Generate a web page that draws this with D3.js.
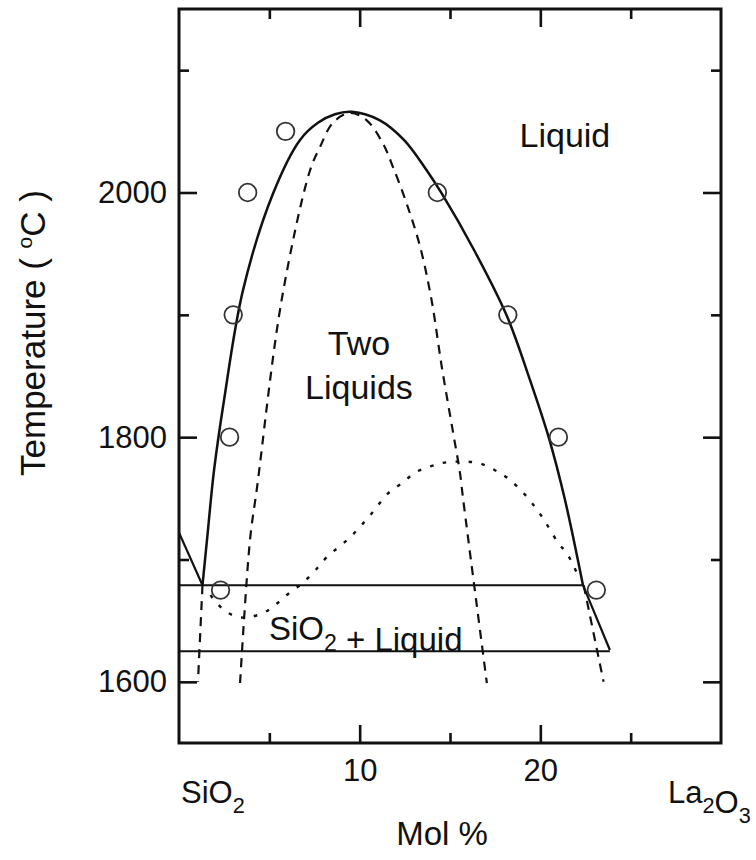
<!DOCTYPE html>
<html><head><meta charset="utf-8">
<script src="https://cdn.jsdelivr.net/npm/d3@7"></script>
<style>
body{margin:0;background:#fff}
text{font-family:"Liberation Sans",Arial,Helvetica,sans-serif;fill:#111}
</style>
</head><body><svg id="c" width="756" height="860"></svg>
<script>
// ---------- data ----------
const xDomain = [0, 30];
const yDomain = [1550, 2150];
const xMajorTicks = [10, 20];
const xMinorTicks = [5, 15, 25];
const xTickLabels = ["10", "20"];
const yMajorTicks = [1600, 1800, 2000];
const yMinorTicks = [1700, 1900, 2100];
const yTickLabels = ["1600", "1800", "2000"];

// measured liquidus points (open circles): [mol% La2O3, T °C]
const measuredX = [2.3, 2.8, 3.0, 3.8, 5.9, 14.3, 18.2, 21.0, 23.1];
const measuredT = [1675, 1800, 1900, 2000, 2050, 2000, 1900, 1800, 1675];

// solid miscibility dome
const domeX = [1.30, 1.55, 1.94, 2.49, 3.54, 5.20, 6.70, 7.69, 8.63, 9.57, 11.12, 12.45, 13.67, 14.55, 16.33, 18.15, 19.42, 20.48, 21.36, 22.36];
const domeT = [1679, 1716, 1773, 1830, 1920, 1999, 2043, 2057, 2064, 2066, 2059, 2043, 2019, 1999, 1953, 1899, 1847, 1799, 1749, 1679];
// SiO2 liquidus
const silicaLiqX = [0, 1.30];
const silicaLiqT = [1722, 1679];
// right liquidus below monotectic
const rightLiqX = [22.36, 23.85];
const rightLiqT = [1679, 1626];
// horizontals
const monotecticX = [0, 22.36];
const monotecticT = [1679, 1679];
const eutecticX = [0, 23.85];
const eutecticT = [1625, 1625];
// metastable extensions (dashed)
const metaLeftX = [1.30, 1.05];
const metaLeftT = [1679, 1600];
const metaRightX = [22.40, 23.50];
const metaRightT = [1679, 1600];
// inner dashed dome (spinodal)
const spinX = [3.38, 3.93, 4.32, 5.68, 7.25, 7.80, 8.52, 9.46, 10.39, 11.29, 11.84, 12.60, 13.34, 13.98, 14.54, 15.18, 15.55, 15.73, 17.04];
const spinT = [1599, 1716, 1759, 1912, 2018, 2037, 2057, 2065, 2059, 2040, 2021, 1991, 1956, 1912, 1858, 1803, 1771, 1749, 1599];
// dotted curve
const dotX = [1.75, 1.88, 2.55, 3.27, 3.93, 4.76, 5.42, 6.14, 6.86, 7.53, 8.19, 9.46, 10.57, 11.57, 12.40, 13.06, 13.89, 14.61, 15.27, 15.99, 16.77, 17.49, 18.15, 19.15, 20.09, 20.97, 21.47, 21.80, 22.08];
const dotT = [1671, 1668, 1658, 1653, 1653, 1657, 1664, 1673, 1681, 1691, 1702, 1718, 1736, 1754, 1763, 1771, 1776, 1779, 1780, 1780, 1778, 1773, 1767, 1753, 1735, 1714, 1705, 1696, 1687];

// ---------- layout ----------
const L = 179, R = 721, T = 9, B = 743;
const svg = d3.select("#c");
const x = d3.scaleLinear().domain(xDomain).range([L, R]);
const y = d3.scaleLinear().domain(yDomain).range([B, T]);
const zip = (a, b) => a.map((v, i) => [v, b[i]]);

const smooth = d3.line().x(d => x(d[0])).y(d => y(d[1])).curve(d3.curveCatmullRom.alpha(0.5));
const straight = d3.line().x(d => x(d[0])).y(d => y(d[1]));

const g = svg.append("g");
function draw(path, pts, opts) {
  g.append("path").attr("d", path(pts)).attr("fill", "none")
    .attr("stroke", "#111").attr("stroke-width", opts.w || 2.4)
    .attr("stroke-dasharray", opts.dash || null)
    .attr("stroke-linecap", opts.cap || "butt");
}
draw(smooth, zip(spinX, spinT), {w: 2.2, dash: "9 7"});
draw(straight, zip(metaLeftX, metaLeftT), {w: 2.2, dash: "9 7"});
draw(straight, zip(metaRightX, metaRightT), {w: 2.2, dash: "9 7"});
draw(smooth, zip(dotX, dotT), {w: 2.4, dash: "3.5 9.5"});
draw(smooth, zip(domeX, domeT), {w: 2.5});
draw(straight, zip(silicaLiqX, silicaLiqT), {w: 2.2});
draw(straight, zip(rightLiqX, rightLiqT), {w: 2.2});
draw(straight, zip(monotecticX, monotecticT), {w: 2});
draw(straight, zip(eutecticX, eutecticT), {w: 2});

g.selectAll("circle.m").data(zip(measuredX, measuredT)).join("circle")
  .attr("class", "m").attr("cx", d => x(d[0])).attr("cy", d => y(d[1])).attr("r", 8.8)
  .attr("fill", "none").attr("stroke", "#333").attr("stroke-width", 1.8);

// ---------- axes ----------
const tickFont = 31;
function styleAxis(sel) {
  sel.select(".domain").remove();
  sel.selectAll(".tick line").attr("stroke", "#111").attr("stroke-width", 2.6);
  sel.selectAll("text").attr("font-size", tickFont).attr("fill", "#111")
    .style("font-family", '"Liberation Sans", Arial, sans-serif');
}
svg.append("g").attr("transform", `translate(0,${B})`)
  .call(d3.axisBottom(x).tickValues(xMajorTicks).tickSize(-18).tickPadding(16)
    .tickFormat((d, i) => xTickLabels[i])).call(styleAxis);
svg.append("g").attr("transform", `translate(0,${B})`)
  .call(d3.axisBottom(x).tickValues(xMinorTicks).tickSize(-10).tickFormat("")).call(styleAxis);
svg.append("g").attr("transform", `translate(0,${T})`)
  .call(d3.axisTop(x).tickValues(xMajorTicks).tickSize(-18).tickFormat("")).call(styleAxis);
svg.append("g").attr("transform", `translate(0,${T})`)
  .call(d3.axisTop(x).tickValues(xMinorTicks).tickSize(-10).tickFormat("")).call(styleAxis);
svg.append("g").attr("transform", `translate(${L},0)`)
  .call(d3.axisLeft(y).tickValues(yMajorTicks).tickSize(-18).tickPadding(12)
    .tickFormat((d, i) => yTickLabels[i])).call(styleAxis);
svg.append("g").attr("transform", `translate(${L},0)`)
  .call(d3.axisLeft(y).tickValues(yMinorTicks).tickSize(-10).tickFormat("")).call(styleAxis);
svg.append("g").attr("transform", `translate(${R},0)`)
  .call(d3.axisRight(y).tickValues(yMajorTicks).tickSize(-18).tickFormat("")).call(styleAxis);
svg.append("g").attr("transform", `translate(${R},0)`)
  .call(d3.axisRight(y).tickValues(yMinorTicks).tickSize(-10).tickFormat("")).call(styleAxis);

svg.append("rect").attr("x", L).attr("y", T).attr("width", R - L).attr("height", B - T)
  .attr("fill", "none").attr("stroke", "#111").attr("stroke-width", 3);

// ---------- labels ----------
function sub(t, parts, size) {
  parts.forEach(p => {
    if (p.sub) {
      t.append("tspan").attr("font-size", size * 0.7).attr("dy", size * 0.32).text(p.s);
      t.append("tspan").attr("dy", -size * 0.32).text("");
    } else t.append("tspan").text(p.s);
  });
}
const lab = svg.append("g");
lab.append("text").attr("x", x(21.36)).attr("y", y(2037)).attr("text-anchor", "middle")
  .attr("font-size", 34).text("Liquid");
lab.append("text").attr("x", x(9.96)).attr("y", y(1867)).attr("text-anchor", "middle")
  .attr("font-size", 34).text("Two");
lab.append("text").attr("x", x(9.96)).attr("y", y(1831)).attr("text-anchor", "middle")
  .attr("font-size", 34).text("Liquids");
const sl = lab.append("text").attr("x", x(4.98)).attr("y", y(1634)).attr("font-size", 33);
sub(sl, [{s: "SiO"}, {s: "2", sub: true}, {s: " + Liquid"}], 33);

const s1 = lab.append("text").attr("x", 181).attr("y", 803).attr("font-size", 31);
sub(s1, [{s: "SiO"}, {s: "2", sub: true}], 31);
const s2 = lab.append("text").attr("x", 668).attr("y", 803).attr("font-size", 31);
sub(s2, [{s: "La"}, {s: "2", sub: true}, {s: "O"}, {s: "3", sub: true}], 31);

lab.append("text").attr("x", (L + R) / 2 - 8).attr("y", 845).attr("text-anchor", "middle")
  .attr("font-size", 33).text("Mol %");

const yt = lab.append("text").attr("transform", "translate(45,333) rotate(-90)")
  .attr("text-anchor", "middle").attr("font-size", 35);
yt.append("tspan").text("Temperature ( ");
yt.append("tspan").attr("font-size", 21).attr("dy", -13).text("o");
yt.append("tspan").attr("dy", 13).text("C )");
</script></body></html>
